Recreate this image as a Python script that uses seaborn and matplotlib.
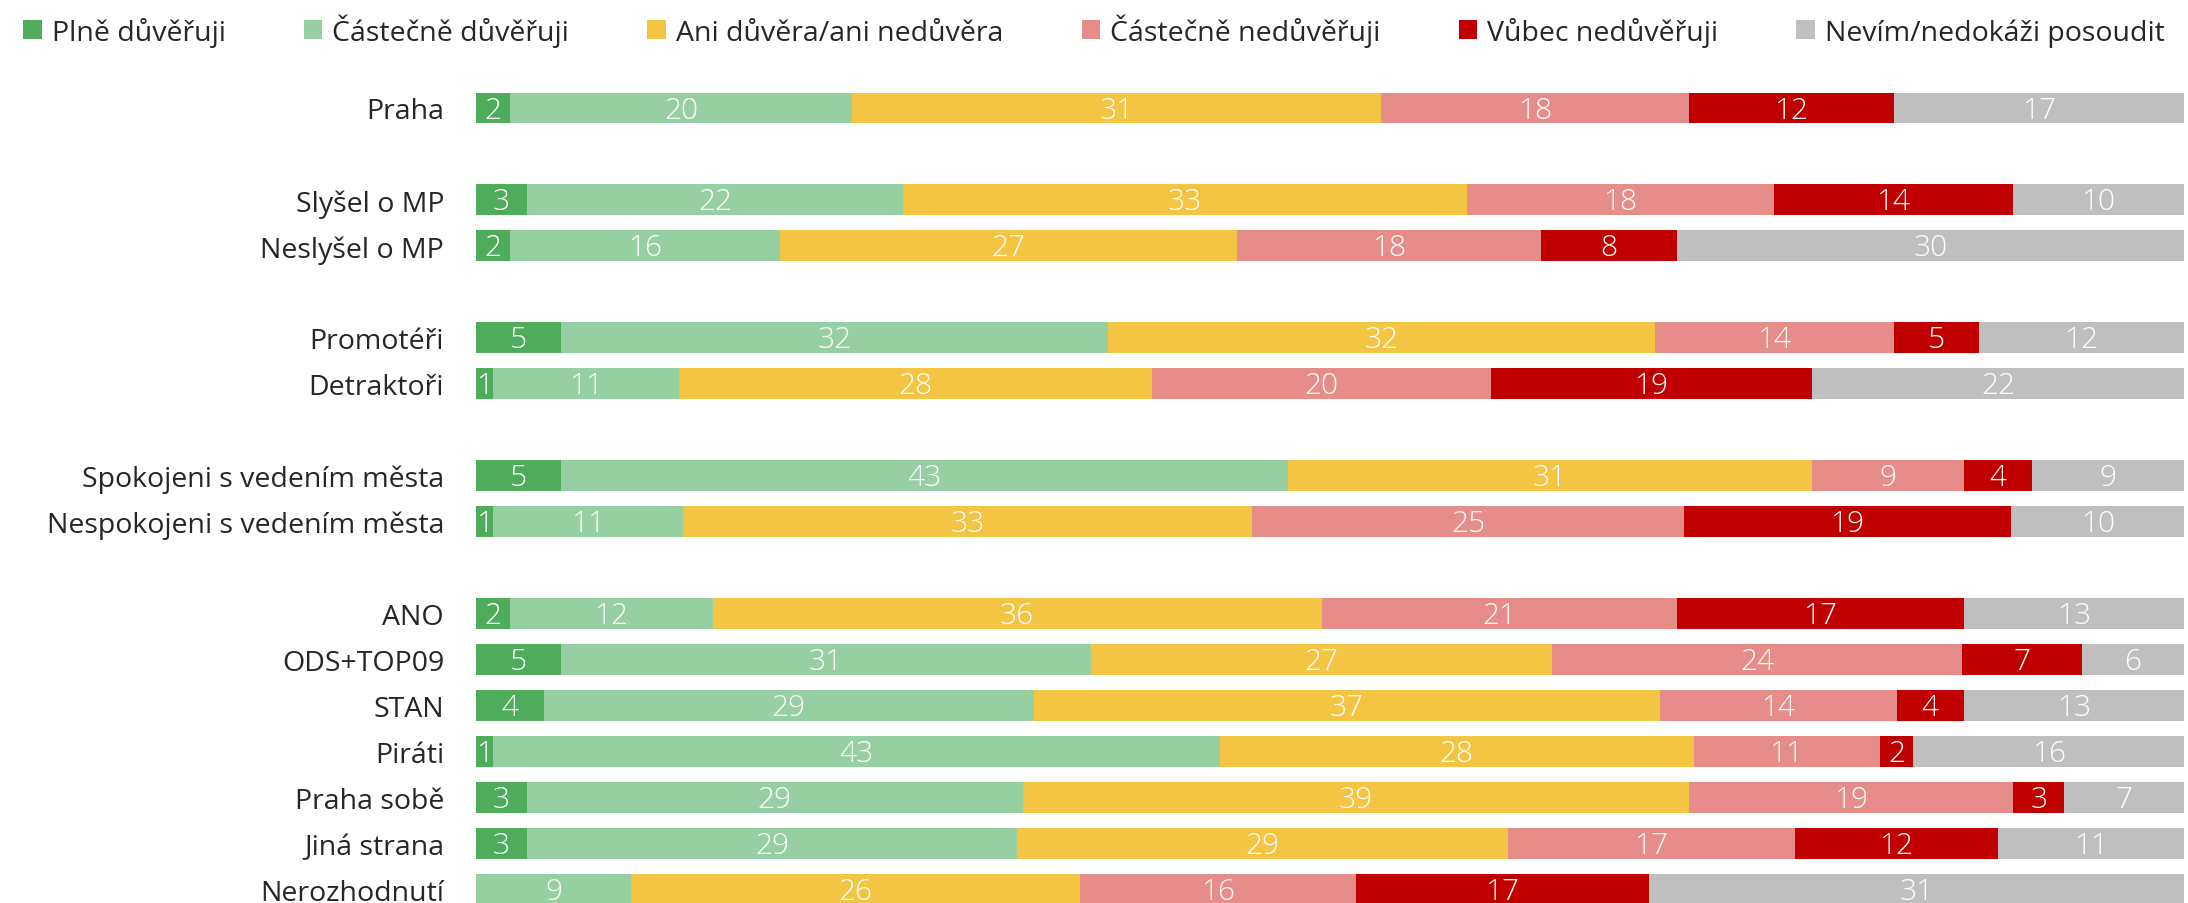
import matplotlib
matplotlib.use("Agg")
import matplotlib.pyplot as plt
import seaborn as sns
import numpy as np
import pandas as pd
from matplotlib.patches import Patch

rows = ["Praha", "Slyšel o MP", "Neslyšel o MP", "Promotéři", "Detraktoři",
        "Spokojeni s vedením města", "Nespokojeni s vedením města",
        "ANO", "ODS+TOP09", "STAN", "Piráti", "Praha sobě", "Jiná strana", "Nerozhodnutí"]
categories = ["Plně důvěřuji", "Částečně důvěřuji", "Ani důvěra/ani nedůvěra",
              "Částečně nedůvěřuji", "Vůbec nedůvěřuji", "Nevím/nedokáži posoudit"]
plne = [2, 3, 2, 5, 1, 5, 1, 2, 5, 4, 1, 3, 3, 0]
castecne = [20, 22, 16, 32, 11, 43, 11, 12, 31, 29, 43, 29, 29, 9]
ani = [31, 33, 27, 32, 28, 31, 33, 36, 27, 37, 28, 39, 29, 26]
cast_ned = [18, 18, 18, 14, 20, 9, 25, 21, 24, 14, 11, 19, 17, 16]
vubec = [12, 14, 8, 5, 19, 4, 19, 17, 7, 4, 2, 3, 12, 17]
nevim = [17, 10, 30, 12, 22, 9, 10, 13, 6, 13, 16, 7, 11, 31]
colors = ["#4EAC5B", "#96CFA1", "#F4C443", "#E68C89", "#C00000", "#BFBFBF"]

# display order with empty gap slots between groups
order = ["Praha", " ", "Slyšel o MP", "Neslyšel o MP", "  ", "Promotéři", "Detraktoři", "   ",
         "Spokojeni s vedením města", "Nespokojeni s vedením města", "    ",
         "ANO", "ODS+TOP09", "STAN", "Piráti", "Praha sobě", "Jiná strana", "Nerozhodnutí"]

df = pd.DataFrame({c: v for c, v in zip(categories, [plne, castecne, ani, cast_ned, vubec, nevim])},
                  index=rows)
share = df.div(df.sum(axis=1), axis=0) * 100
cum = share.cumsum(axis=1)

sns.set_style("white")
plt.rcParams['font.family'] = ['Open Sans', 'DejaVu Sans']

FS = 20.5

fig = plt.figure(figsize=(21.88, 9.04), dpi=100)
ax = fig.add_axes([476 / 2188, 0, (2184 - 476) / 2188, (904 - 80) / 904])

for cat, col in reversed(list(zip(categories, colors))):
    sns.barplot(x=cum[cat].values, y=rows, order=order, color=col, width=0.67,
                errorbar=None, orient="h", ax=ax, linewidth=0, saturation=1)

pos = {r: order.index(r) for r in rows}
for r in rows:
    left = 0
    for cat in categories:
        w = share.loc[r, cat]
        v = df.loc[r, cat]
        if v > 0:
            ax.text(left + w / 2, pos[r] + 0.04, str(v), ha="center", va="center",
                    color="white", fontsize=FS + 1, fontweight="light")
        left += w

ax.set_xlim(0, 100)
ax.set_ylim(17.3, -0.63)
ax.set_xticks([])
ax.set_xlabel("")
ax.set_ylabel("")
ax.tick_params(axis="y", length=0, pad=23, labelsize=FS, labelcolor="#262626")
for s in ax.spines.values():
    s.set_visible(False)

handles = [Patch(facecolor=c, edgecolor="none", label=l) for l, c in zip(categories, colors)]
fig.legend(handles=handles, loc="center", bbox_to_anchor=(0.5, 1 - 31 / 904), ncol=6,
           frameon=False, fontsize=FS, handlelength=0.65, handleheight=0.65,
           handletextpad=0.35, columnspacing=2.75, labelcolor="#262626")

fig.savefig("out.png", dpi=100)
